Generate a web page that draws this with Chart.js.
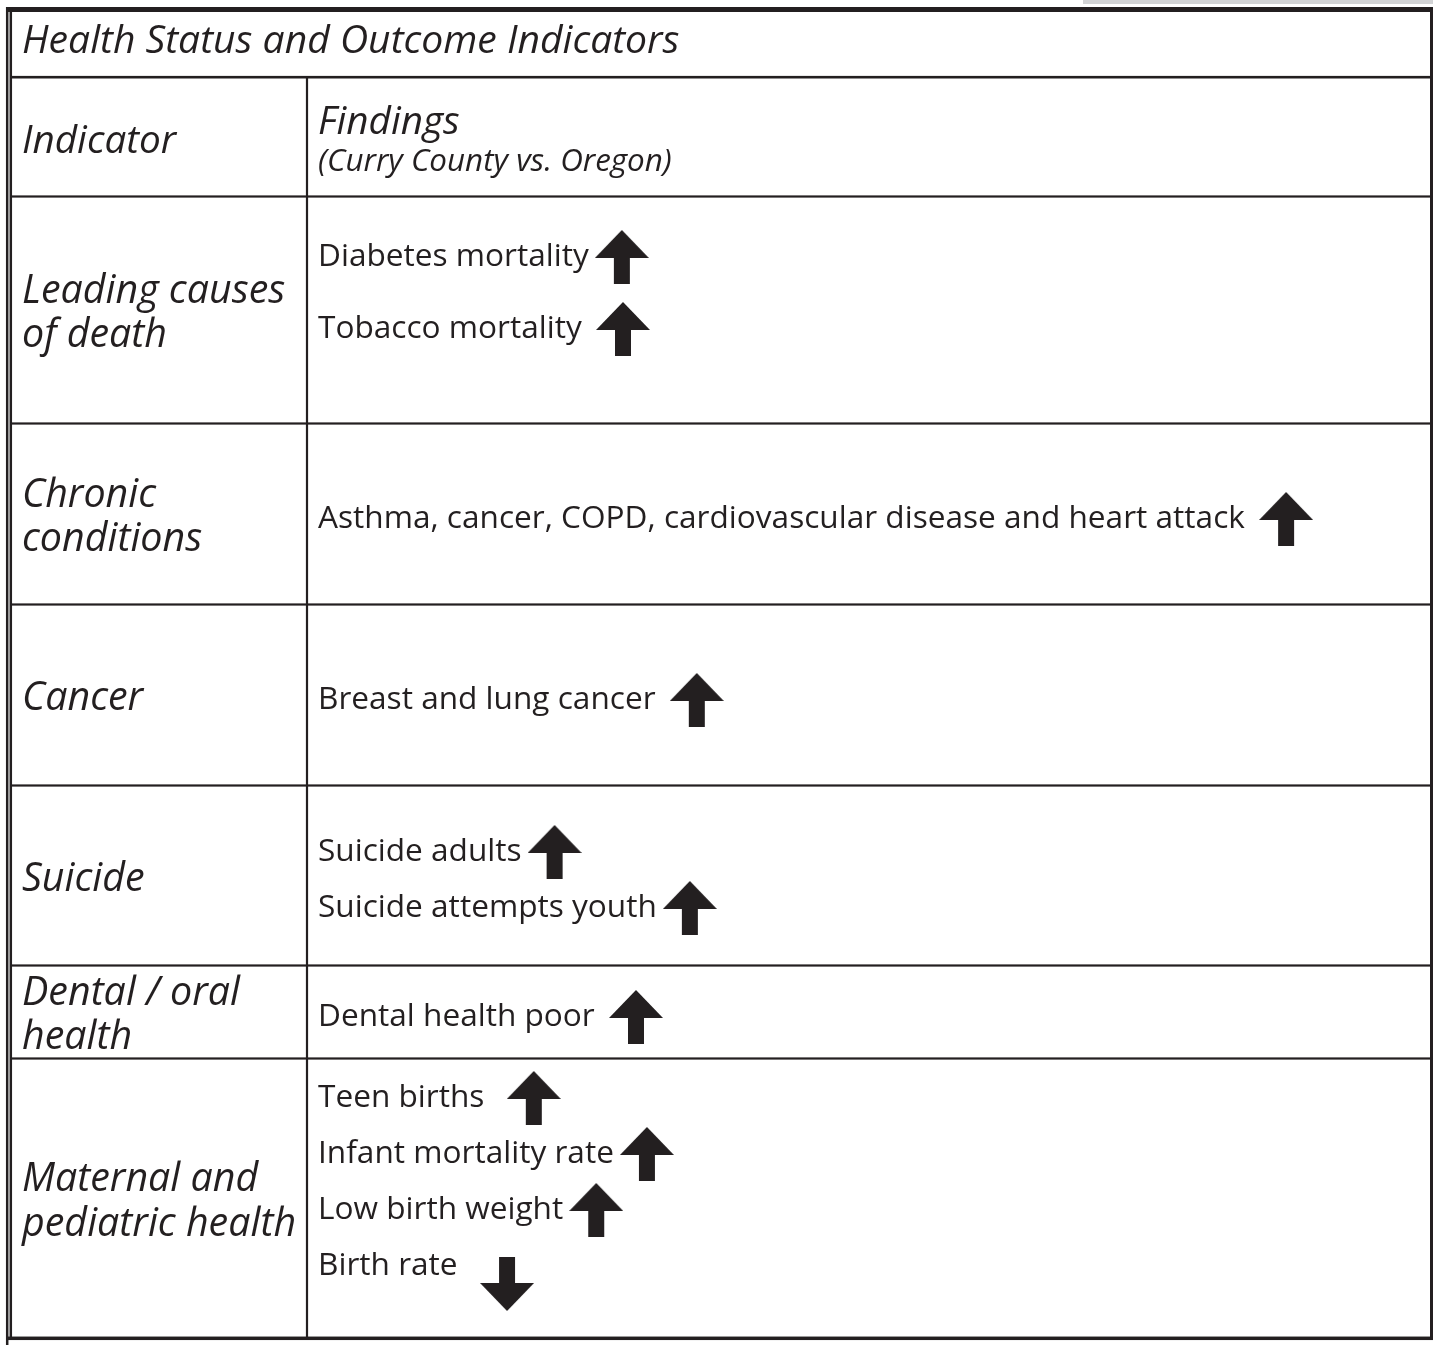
<!DOCTYPE html>
<html>
<head>
<meta charset="utf-8">
<title>Health Status and Outcome Indicators</title>
<script src="https://cdn.jsdelivr.net/npm/chart.js@4/dist/chart.umd.min.js"></script>
<style>
  html, body { margin: 0; padding: 0; background: #fff; }
  canvas { display: block; }
</style>
</head>
<body>
<canvas id="table" width="1433" height="1345"></canvas>
<script>
// table content
const title = 'Health Status and Outcome Indicators';
const headIndicator = 'Indicator';
const headFindings = 'Findings';
const headSub = '(Curry County vs. Oregon)';
const indicators = [
  ['Leading causes', 'of death'],
  ['Chronic', 'conditions'],
  ['Cancer'],
  ['Suicide'],
  ['Dental / oral', 'health'],
  ['Maternal and', 'pediatric health']
];
// trailing spaces keep the gap before the arrow, as in the original sheet
const findings = [
  ['Diabetes mortality', 'Tobacco mortality '],
  ['Asthma, cancer, COPD, cardiovascular disease and heart attack '],
  ['Breast and lung cancer '],
  ['Suicide adults', 'Suicide attempts youth'],
  ['Dental health poor '],
  ['Teen births  ', 'Infant mortality rate', 'Low birth weight', 'Birth rate  ']
];
// +1 = higher than Oregon, -1 = lower
const directions = [
  [1, 1],
  [1],
  [1],
  [1, 1],
  [1],
  [1, 1, 1, -1]
];

// layout of the sheet (table units = page pixels)
const W = 1433, H = 1345;
const rowTops = [196, 423, 604, 785, 965, 1058];
const rowBottoms = [423, 604, 785, 965, 1058, 1338];
const findingLineY = [[254, 326], [516], [697], [849, 905], [1014], [1095, 1151, 1207, 1263]];
const colX = 307, leftX = 22, findX = 318;
const textDy = 2.5; // canvas 'middle' sits a bit high for this face
const ink = '#231f20';
const family = "'Open Sans', 'Noto Sans', sans-serif";

// size fonts so that a reference string spans the width it has on the sheet
const mctx = document.createElement('canvas').getContext('2d');
function fitSize(text, style, target){
  mctx.font = style + ' 100px ' + family;
  return Math.round(100 * target / mctx.measureText(text).width * 10) / 10;
}
const fTitle = 'italic ' + fitSize(title, 'italic', 658) + 'px ' + family;
const fHead = 'italic ' + fitSize(headIndicator, 'italic', 154) + 'px ' + family;
const fSub = 'italic ' + fitSize(headSub, 'italic', 354) + 'px ' + family;
const fLabel = 'italic ' + fitSize('pediatric health', 'italic', 274) + 'px ' + family;
const fFind = 'normal ' + fitSize(findings[1][0].trim(), 'normal', 927) + 'px ' + family;

// arrow glyphs used as point styles
function makeArrow(dir){
  const c = document.createElement('canvas'); c.width = 54; c.height = 54;
  const g = c.getContext('2d'); g.fillStyle = ink;
  if(dir < 0){ g.translate(0, 54); g.scale(1, -1); }
  g.beginPath(); g.moveTo(0, 28); g.lineTo(27, 0); g.lineTo(54, 28); g.closePath(); g.fill();
  g.fillRect(19, 27, 16, 27);
  return c;
}
const arrowUp = makeArrow(1), arrowDown = makeArrow(-1);

// arrow points follow the end of each finding text
mctx.font = fFind;
const arrowPts = [];
findings.forEach((lines, r) => lines.forEach((t, i) => {
  const dir = directions[r][i];
  const y = findingLineY[r][i] + (dir > 0 ? 3 : 21);
  arrowPts.push({ x: findX + mctx.measureText(t).width + 6 + 27, y: y, dir: dir });
}));

const tablePlugin = {
  id: 'tableSheet',
  beforeDatasetsDraw(chart){
    const ctx = chart.ctx, xs = chart.scales.x, ys = chart.scales.y;
    const px = v => xs.getPixelForValue(v), py = v => ys.getPixelForValue(v);
    ctx.save();
    ctx.fillStyle = '#fff'; ctx.fillRect(0, 0, chart.width, chart.height);
    // grey strip at the top right
    ctx.fillStyle = '#d2d3d5'; ctx.fillRect(px(1083), py(0), px(W) - px(1083), py(4) - py(0));
    ctx.fillStyle = ink;
    const hline = (x0, x1, y, t) => ctx.fillRect(px(x0), py(y - t / 2), px(x1) - px(x0), t);
    const vline = (x, y0, y1, t) => ctx.fillRect(px(x - t / 2), py(y0), t, py(y1) - py(y0));
    // outer frame
    ctx.fillRect(px(6), py(7), px(W) - px(6), 5);
    vline(7.2, 7, H, 2.5);
    vline(10.8, 7, 1339, 2.5);
    vline(1431.5, 7, 1340, 3);
    hline(8, W, 1338.3, 3.5);
    hline(10, 1430, 77.2, 2.6);
    vline(colX, 77, 1338, 2.2);
    rowTops.forEach(y => hline(10, 1430, y + 0.5, 2.2));
    // text
    const ty = v => py(v + textDy);
    ctx.textBaseline = 'middle'; ctx.textAlign = 'left';
    ctx.font = fTitle; ctx.fillText(title, px(leftX), ty(39));
    ctx.font = fHead; ctx.fillText(headIndicator, px(leftX), ty(139));
    ctx.fillText(headFindings, px(findX), ty(120));
    ctx.font = fSub; ctx.fillText(headSub, px(findX), ty(160));
    ctx.font = fLabel;
    indicators.forEach((lines, r) => {
      const mid = (rowTops[r] + rowBottoms[r]) / 2 + 2;
      lines.forEach((t, i) => ctx.fillText(t, px(leftX), ty(mid + (i - (lines.length - 1) / 2) * 44.5)));
    });
    ctx.font = fFind;
    findings.forEach((lines, r) => lines.forEach((t, i) => ctx.fillText(t, px(findX), ty(findingLineY[r][i]))));
    ctx.restore();
  }
};

new Chart(document.getElementById('table'), {
  type: 'scatter',
  data: {
    datasets: [{
      data: arrowPts,
      pointStyle: c => (c.raw && c.raw.dir < 0) ? arrowDown : arrowUp,
      pointRadius: 27,
      clip: false
    }]
  },
  options: {
    responsive: false,
    devicePixelRatio: 1,
    animation: false,
    events: [],
    layout: { padding: 0, autoPadding: false },
    plugins: { legend: { display: false }, tooltip: { enabled: false } },
    scales: {
      x: { type: 'linear', min: 0, max: W, display: false },
      y: { type: 'linear', min: 0, max: H, reverse: true, display: false }
    }
  },
  plugins: [tablePlugin]
});
</script>
</body>
</html>
